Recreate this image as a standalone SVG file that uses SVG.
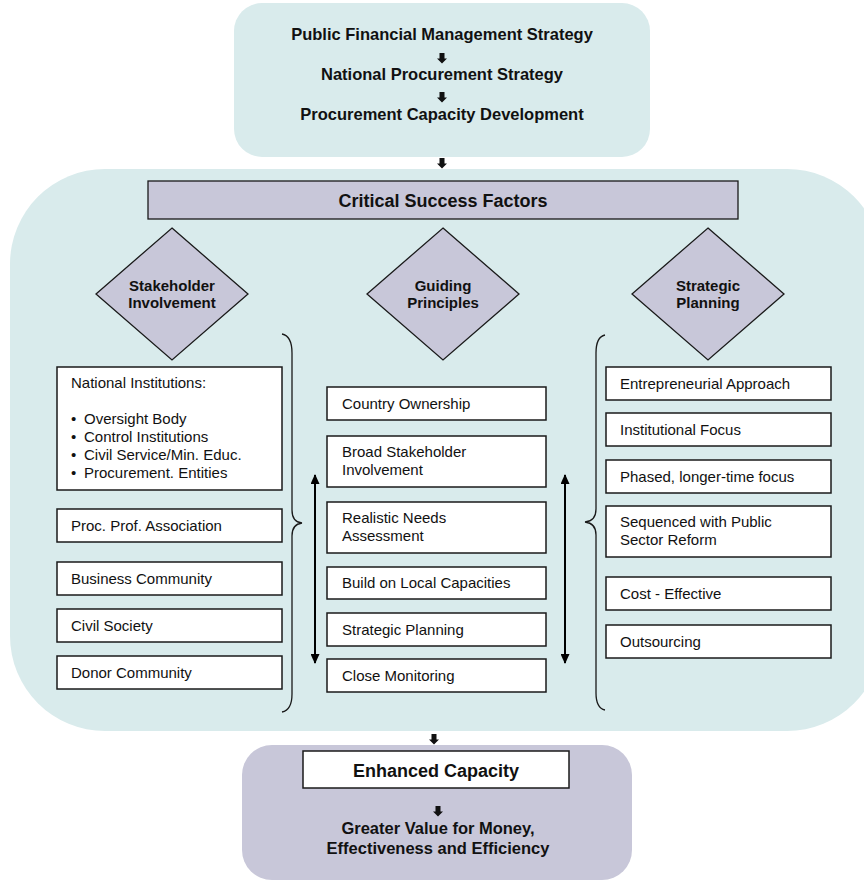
<svg xmlns="http://www.w3.org/2000/svg" width="864" height="882" viewBox="0 0 864 882">
  <style>
    .panel { fill: #d9ebec; }
    .lilac { fill: #c8c7d9; }
    .box { fill: #ffffff; stroke: #1a1a1a; stroke-width: 1.5; }
    .lbox { fill: #c8c7d9; stroke: #1a1a1a; stroke-width: 1.3; }
    .t { font-family: "Liberation Sans", Arial, sans-serif; font-size: 15px; fill: #111; }
    .b { font-family: "Liberation Sans", Arial, sans-serif; font-weight: bold; fill: #111; }
    .mid { text-anchor: middle; }
    .brace { fill: none; stroke: #1a1a1a; stroke-width: 1.3; }
    .span { fill: none; stroke: #000; stroke-width: 2; marker-start: url(#tip); marker-end: url(#tip); }
  </style>
  <defs>
    <path id="down" d="M-2.5,0 h5 v5.5 h2.5 l-5,5 l-5,-5 h2.5 z" fill="#111"/>
    <marker id="tip" viewBox="0 0 10 10" refX="9" refY="5" markerWidth="5" markerHeight="4.5" orient="auto-start-reverse" markerUnits="strokeWidth" preserveAspectRatio="none">
      <path d="M0,0 L10,5 L0,10 z" fill="#000"/>
    </marker>
  </defs>

  <!-- strategy chain -->
  <g id="strategy">
    <rect class="panel" x="234" y="3" width="416" height="154" rx="28"/>
    <text class="b mid" x="442" y="40" font-size="16.5">Public Financial Management Strategy</text>
    <text class="b mid" x="442" y="80" font-size="16.5">National Procurement Strategy</text>
    <text class="b mid" x="442" y="120" font-size="16.5">Procurement Capacity Development</text>
  </g>

  <!-- critical success factors panel -->
  <g id="csf-panel">
    <rect class="panel" x="10" y="169" width="872" height="562" rx="95"/>
  </g>

  <g id="csf-bar">
    <rect class="lbox" x="148" y="181" width="590" height="38"/>
    <text class="b mid" x="443" y="206.5" font-size="18">Critical Success Factors</text>
  </g>

  <g id="stakeholder-involvement">
    <polygon class="lbox" points="172,228 248,294 172,360 96,294"/>
    <text class="b mid" x="172" y="291" font-size="15">Stakeholder</text>
    <text class="b mid" x="172" y="308" font-size="15">Involvement</text>
  </g>
  <g id="guiding-principles">
    <polygon class="lbox" points="443,228 519,294 443,360 367,294"/>
    <text class="b mid" x="443" y="291" font-size="15">Guiding</text>
    <text class="b mid" x="443" y="308" font-size="15">Principles</text>
  </g>
  <g id="strategic-planning">
    <polygon class="lbox" points="708,228 784,294 708,360 632,294"/>
    <text class="b mid" x="708" y="291" font-size="15">Strategic</text>
    <text class="b mid" x="708" y="308" font-size="15">Planning</text>
  </g>

  <!-- stakeholders -->
  <g id="national-institutions">
    <rect class="box" x="57" y="367" width="225" height="123"/>
    <text class="t" x="71" y="388">National Institutions:</text>
    <text class="t" x="71" y="424">•</text><text class="t" x="84" y="424">Oversight Body</text>
    <text class="t" x="71" y="442">•</text><text class="t" x="84" y="442">Control Institutions</text>
    <text class="t" x="71" y="460">•</text><text class="t" x="84" y="460">Civil Service/Min. Educ.</text>
    <text class="t" x="71" y="478">•</text><text class="t" x="84" y="478">Procurement. Entities</text>
  </g>
  <g id="proc-prof-association">
    <rect class="box" x="57" y="509" width="225" height="33"/>
    <text class="t" x="71" y="531">Proc. Prof. Association</text>
  </g>
  <g id="business-community">
    <rect class="box" x="57" y="562" width="225" height="33"/>
    <text class="t" x="71" y="584">Business Community</text>
  </g>
  <g id="civil-society">
    <rect class="box" x="57" y="609" width="225" height="33"/>
    <text class="t" x="71" y="631">Civil Society</text>
  </g>
  <g id="donor-community">
    <rect class="box" x="57" y="656" width="225" height="33"/>
    <text class="t" x="71" y="678">Donor Community</text>
  </g>

  <!-- guiding principles -->
  <g id="country-ownership">
    <rect class="box" x="327" y="387" width="219" height="33"/>
    <text class="t" x="342" y="409">Country Ownership</text>
  </g>
  <g id="broad-stakeholder-involvement">
    <rect class="box" x="327" y="436" width="219" height="51"/>
    <text class="t" x="342" y="457">Broad Stakeholder</text>
    <text class="t" x="342" y="475">Involvement</text>
  </g>
  <g id="realistic-needs-assessment">
    <rect class="box" x="327" y="502" width="219" height="51"/>
    <text class="t" x="342" y="523">Realistic Needs</text>
    <text class="t" x="342" y="541">Assessment</text>
  </g>
  <g id="build-on-local-capacities">
    <rect class="box" x="327" y="567" width="219" height="32"/>
    <text class="t" x="342" y="588">Build on Local Capacities</text>
  </g>
  <g id="strategic-planning-item">
    <rect class="box" x="327" y="613" width="219" height="33"/>
    <text class="t" x="342" y="635">Strategic Planning</text>
  </g>
  <g id="close-monitoring">
    <rect class="box" x="327" y="659" width="219" height="33"/>
    <text class="t" x="342" y="681">Close Monitoring</text>
  </g>

  <!-- strategic planning items -->
  <g id="entrepreneurial-approach">
    <rect class="box" x="606" y="367" width="225" height="33"/>
    <text class="t" x="620" y="389">Entrepreneurial Approach</text>
  </g>
  <g id="institutional-focus">
    <rect class="box" x="606" y="413" width="225" height="33"/>
    <text class="t" x="620" y="435">Institutional Focus</text>
  </g>
  <g id="phased-focus">
    <rect class="box" x="606" y="460" width="225" height="33"/>
    <text class="t" x="620" y="482">Phased, longer-time focus</text>
  </g>
  <g id="sequenced-reform">
    <rect class="box" x="606" y="506" width="225" height="51"/>
    <text class="t" x="620" y="527">Sequenced with Public</text>
    <text class="t" x="620" y="545">Sector Reform</text>
  </g>
  <g id="cost-effective">
    <rect class="box" x="606" y="577" width="225" height="33"/>
    <text class="t" x="620" y="599">Cost - Effective</text>
  </g>
  <g id="outsourcing">
    <rect class="box" x="606" y="625" width="225" height="33"/>
    <text class="t" x="620" y="647">Outsourcing</text>
  </g>

  <!-- outcome -->
  <g id="outcome">
    <rect class="lilac" x="242" y="745" width="390" height="135" rx="30"/>
  </g>
  <g id="enhanced-capacity">
    <rect class="box" x="303" y="751" width="266" height="37"/>
    <text class="b mid" x="436" y="777" font-size="18">Enhanced Capacity</text>
  </g>
  <g id="value-for-money">
    <text class="b mid" x="438" y="834" font-size="16.5">Greater Value for Money,</text>
    <text class="b mid" x="438" y="854" font-size="16.5">Effectiveness and Efficiency</text>
  </g>

  <!-- connectors -->
  <g id="connectors">
    <use href="#down" x="442" y="53"/>
    <use href="#down" x="442" y="92"/>
    <use href="#down" x="442" y="158"/>
    <use href="#down" x="434" y="734"/>
    <use href="#down" x="438" y="806"/>
    <path class="brace" d="M282,334 Q292,336 292,353 L292,510 Q292,522 302,523 Q292,524 292,536 L292,694 Q292,710 282,712"/>
    <path class="brace" d="M605,335 Q596,337 596,353 L596,509 Q596,521 585,522 Q596,523 596,535 L596,693 Q596,708 605,710"/>
    <line class="span" x1="315" y1="475" x2="315" y2="663"/>
    <line class="span" x1="565" y1="475" x2="565" y2="663"/>
  </g>
</svg>
